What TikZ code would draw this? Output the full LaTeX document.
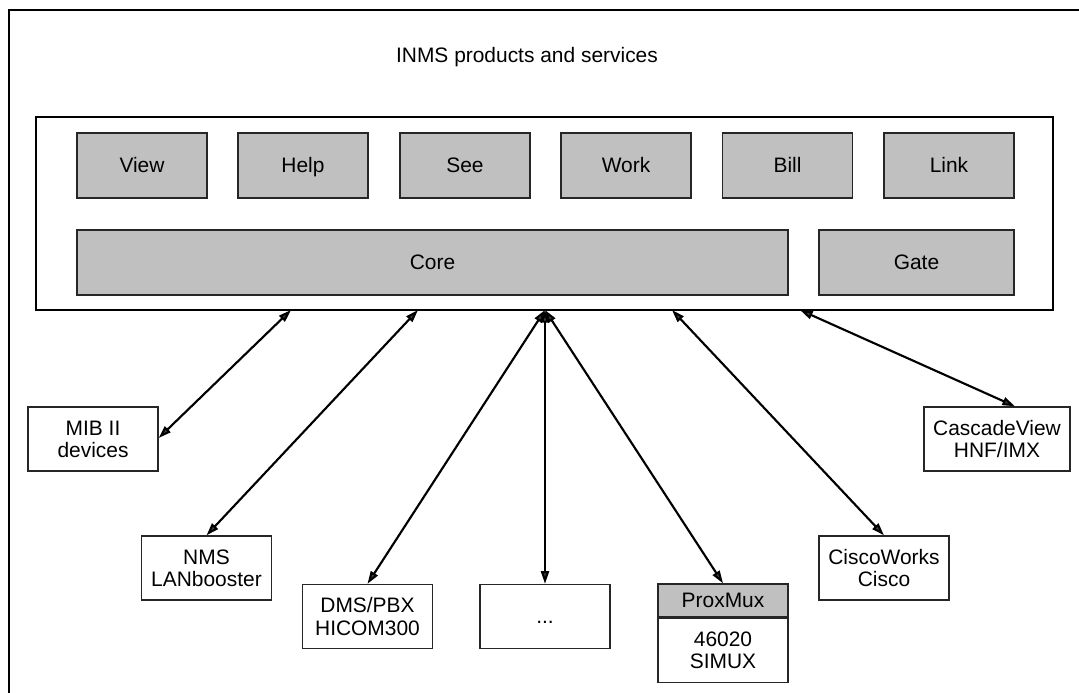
\documentclass[tikz,border=0pt]{standalone}
\usepackage{fontspec}
\setmainfont{Liberation Sans}
\usetikzlibrary{arrows.meta}
\definecolor{boxgray}{HTML}{C0C0C0}
\definecolor{tipgray}{HTML}{404040}
\begin{document}
\begin{tikzpicture}[x=0.75pt,y=-0.75pt,
  every node/.style={font=\fontsize{15.7}{16.6}\selectfont, inner sep=0pt, align=center},
  one/.style={text height=12.2pt, text depth=1pt},
  gbox/.style={draw=black!85, line width=1pt, fill=boxgray, minimum height=48.75pt, one},
  wbox/.style={draw=black!85, line width=1pt, fill=white, minimum width=97.5pt, minimum height=48pt},
  link/.style={line width=1.6pt, {Triangle[length=9.5pt,width=6pt,fill=tipgray]}-{Triangle[length=9.5pt,width=6pt,fill=tipgray]}}
]
\useasboundingbox (0,0) rectangle (1079,693);
\fill[white] (0,0) rectangle (1079,693);
% outer frame (right and bottom edges lie beyond the picture)
\draw[line width=2pt] (9,710) -- (9,10) -- (1095,10);
\node[one] (title) at (527,55) {INMS products and services};
% main box
\node[draw, line width=2.2pt, minimum width=762.75pt, minimum height=144.75pt] (main) at (544.5,213.5) {};
\foreach \n/\t/\x in {view/View/142, help/Help/303, see/See/465, work/Work/626, bill/Bill/787.5, link/Link/949}{
  \node[gbox, minimum width=97.5pt] (\n) at (\x,165.5) {\t};
}
\node[gbox, minimum width=533.25pt] (core) at (432.5,262.5) {Core};
\node[gbox, minimum width=146.25pt] (gate) at (916.5,262.5) {Gate};
% lower boxes
\node[wbox] (mib) at (93,439) {MIB II\\devices};
\node[wbox] (nms) at (206.5,568) {NMS\\LANbooster};
\node[wbox] (dms) at (367.5,616.5) {DMS/PBX\\HICOM300};
\node[wbox, one] (dots) at (545,616.5) {...};
\node[draw=black!85, line width=1pt, fill=boxgray, minimum width=97.5pt, minimum height=24.75pt, one] (pmh) at (723,600.5) {ProxMux};
\node[draw=black!85, line width=1pt, fill=white, minimum width=97.5pt, minimum height=48pt, anchor=north] (pmb) at (pmh.south) {46020\\SIMUX};
\node[wbox] (cisco) at (884,568) {CiscoWorks\\Cisco};
\node[wbox, minimum width=109.5pt] (cv) at (997,439) {CascadeView\\HNF/IMX};
% attachment points on main box
\coordinate (a1) at (291,310);
\coordinate (a2) at (418,310);
\coordinate (a3) at (545,310);
\coordinate (a4) at (672,310);
\coordinate (a5) at (800,310);
\draw[link] (a1) -- ([yshift=0.75pt]mib.east);
\draw[link] (a2) -- (nms.north);
\draw[link] (a3) -- (dms.north);
\draw[link] (a3) -- (dots.north);
\draw[link] (a3) -- (pmh.north);
\draw[link] (a4) -- (cisco.north);
\draw[link] (a5) -- ([xshift=13.5pt]cv.north);
\end{tikzpicture}
\end{document}
